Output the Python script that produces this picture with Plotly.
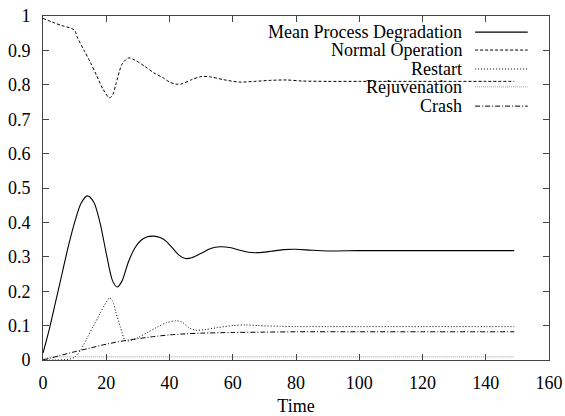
import plotly.graph_objects as go

# ---- data ----
mean_t = [0, 2, 4, 6, 8, 10, 12, 14, 16, 18, 20, 22, 23.5, 25, 27, 29, 31, 33, 35, 37, 39, 41, 43, 45, 47,
          50, 53, 56, 59, 62, 65, 68, 72, 76, 80, 85, 90, 100, 110, 120, 130, 140, 149]
mean_v = [0.02, 0.09, 0.17, 0.25, 0.33, 0.40, 0.455, 0.477, 0.46, 0.40, 0.31, 0.23, 0.212, 0.23, 0.285,
          0.325, 0.348, 0.358, 0.36, 0.356, 0.345, 0.325, 0.305, 0.295, 0.297, 0.31, 0.324, 0.329, 0.327,
          0.32, 0.313, 0.312, 0.316, 0.321, 0.322, 0.319, 0.317, 0.318, 0.318, 0.318, 0.318, 0.318, 0.318]

normal_t = [0, 3, 6, 9, 10, 11, 13, 15, 17, 19, 21, 22, 23, 25, 27, 29, 32, 35, 38, 40, 42, 44, 47, 50,
            53, 57, 62, 67, 72, 77, 82, 90, 100, 110, 120, 130, 140, 149]
normal_v = [0.993, 0.982, 0.972, 0.964, 0.958, 0.935, 0.90, 0.865, 0.826, 0.787, 0.762, 0.77, 0.80, 0.86,
            0.878, 0.872, 0.855, 0.835, 0.82, 0.808, 0.802, 0.803, 0.815, 0.824, 0.823, 0.815, 0.808, 0.81,
            0.813, 0.814, 0.811, 0.81, 0.81, 0.81, 0.81, 0.81, 0.81, 0.81]

restart_t = [0, 4, 8, 10, 12, 14, 16, 18, 20, 21, 22, 23, 24.5, 26, 27, 30, 33, 36, 39, 42, 44, 46, 48,
             51, 55, 60, 64, 68, 75, 80, 90, 100, 110, 120, 130, 140, 149]
restart_v = [0, 0, 0.002, 0.008, 0.03, 0.065, 0.10, 0.135, 0.168, 0.18, 0.172, 0.14, 0.095, 0.056, 0.055,
             0.065, 0.08, 0.095, 0.108, 0.114, 0.11, 0.095, 0.087, 0.088, 0.094, 0.10, 0.102, 0.10, 0.098,
             0.097, 0.097, 0.097, 0.097, 0.097, 0.097, 0.097, 0.097]

rejuv_t = [0, 2, 5, 20, 40, 60, 80, 100, 120, 140, 149]
rejuv_v = [0.003, 0.008, 0.009, 0.009, 0.009, 0.009, 0.009, 0.009, 0.009, 0.009, 0.009]

crash_t = [0, 5, 10, 15, 20, 25, 30, 35, 40, 45, 50, 60, 70, 80, 100, 120, 149]
crash_v = [0, 0.012, 0.024, 0.035, 0.046, 0.055, 0.062, 0.068, 0.073, 0.076, 0.078, 0.080, 0.081, 0.082,
           0.082, 0.082, 0.082]

names = ["Mean Process Degradation", "Normal Operation", "Restart", "Rejuvenation", "Crash"]
x_ticks = [0, 20, 40, 60, 80, 100, 120, 140, 160]
y_ticks = [0, 0.1, 0.2, 0.3, 0.4, 0.5, 0.6, 0.7, 0.8, 0.9, 1]

# ---- styles ----
styles = [
    dict(color="black", width=1.1, dash="solid"),
    dict(color="black", width=1, dash="3px,2px"),
    dict(color="black", width=1, dash="1px,2px"),
    dict(color="#999999", width=1, dash="1px,1px"),
    dict(color="black", width=1, dash="5px,2px,1px,2px"),
]
series = [(mean_t, mean_v), (normal_t, normal_v), (restart_t, restart_v), (rejuv_t, rejuv_v), (crash_t, crash_v)]

FONT = "Liberation Serif, Times New Roman, serif"
fig = go.Figure()
for (t, v), name, st in zip(series, names, styles):
    fig.add_trace(go.Scatter(x=t, y=v, mode="lines", name=name, showlegend=False,
                             line=dict(color=st["color"], width=st["width"], dash=st["dash"],
                                       shape="spline", smoothing=0.8)))

# gnuplot-like key: right-aligned text with sample line to the right
row_y = [0.953, 0.901, 0.846, 0.794, 0.738]
for name, st, yy in zip(names, styles, row_y):
    fig.add_annotation(x=0.830, y=yy, xref="paper", yref="paper", text=name, showarrow=False,
                       xanchor="right", yanchor="middle", borderpad=0,
                       font=dict(family=FONT, size=18, color="black"))
    fig.add_shape(type="line", xref="paper", yref="paper", x0=0.854, x1=0.958, y0=yy, y1=yy,
                  line=dict(color=st["color"], width=st["width"], dash=st["dash"]))

axis_common = dict(showline=True, linecolor="#444444", linewidth=1, mirror="ticks", ticks="inside",
                   ticklen=6, tickcolor="#444444", showgrid=False, zeroline=False, automargin=False,
                   tickfont=dict(family=FONT, size=18, color="black"))
fig.update_xaxes(range=[0, 160], tickvals=x_ticks, ticktext=[str(v) for v in x_ticks],
                 title=dict(text="Time", font=dict(family=FONT, size=18, color="black"), standoff=8),
                 ticklabelstandoff=6, **axis_common)
fig.update_yaxes(range=[0, 1], tickvals=y_ticks, ticktext=[("%g" % v) for v in y_ticks],
                 ticklabelstandoff=8, **axis_common)

fig.update_layout(width=565, height=416, margin=dict(l=43, r=16, t=16, b=56),
                  font=dict(family=FONT), hovermode=False,
                  plot_bgcolor="white", paper_bgcolor="white", showlegend=False)
fig.write_html("out.html", config={"displayModeBar": False, "staticPlot": True},
               post_script="document.body.style.margin='0';")
